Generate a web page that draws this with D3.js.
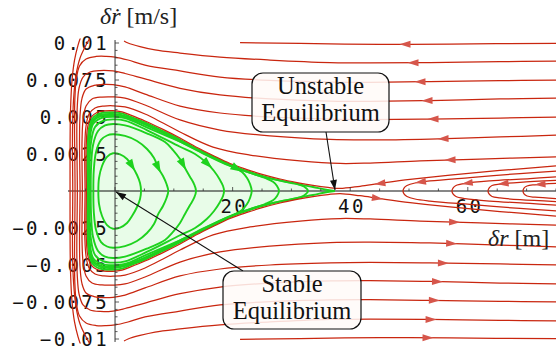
<!DOCTYPE html>
<html><head><meta charset="utf-8">
<script src="https://cdn.jsdelivr.net/npm/d3@7"></script>
<style>
body{margin:0;background:#fff}
svg{display:block}
</style>
</head><body>
<svg id="chart" width="556" height="360"></svg>
<script>
// Phase portrait of the radial relative motion: δr [m] vs δṙ [m/s].
// Every trajectory is stored as its upper half (δṙ >= 0); the portrait is
// symmetric about δṙ = 0, so the lower half is the mirror image.

// separatrix (homoclinic orbit of the saddle), from the left wall to the saddle
const separatrix = [[-4.68,0],[-4.71,0.00176],[-4.66,0.00311],[-4.42,0.00426],[-3.91,0.00486],[-3.06,0.00517],[-1.87,0.00530],[-0.34,0.00532],[1.19,0.00524],[2.55,0.00503],[5.10,0.00463],[8.16,0.00405],[11.05,0.00348],[13.95,0.00284],[16.67,0.00230],[19.56,0.00176],[22.45,0.00135],[25.17,0.00101],[28.06,0.00071],[30.95,0.00047],[33.67,0.00027],[35.71,0.00010],[37.41,0]];

// closed orbits around the stable equilibrium
const loop1 = [[-2.84,0],[-2.72,0.00088],[-2.21,0.00169],[-1.36,0.00230],[-0.34,0.00255],[0.85,0.00247],[2.04,0.00216],[2.89,0.00169],[3.74,0.00108],[4.25,0.00054],[4.42,0]];
const loop2 = [[-3.69,0],[-3.61,0.00142],[-3.23,0.00264],[-2.38,0.00345],[-1.36,0.00375],[-0.34,0.00383],[1.70,0.00372],[3.74,0.00338],[5.44,0.00284],[6.63,0.00223],[7.36,0.00155],[8.16,0.00101],[8.76,0.00047],[9.06,0]];
const loop3 = [[-4.13,0],[-4.08,0.00155],[-3.74,0.00311],[-2.89,0.00405],[-1.70,0.00443],[-0.34,0.00453],[1.70,0.00443],[5.39,0.00390],[8.50,0.00331],[9.86,0.00277],[11.05,0.00216],[11.90,0.00155],[12.76,0.00095],[13.44,0.00047],[13.78,0]];
const loop4 = [[-4.37,0],[-4.34,0.00176],[-4.08,0.00331],[-3.40,0.00432],[-2.04,0.00473],[-0.34,0.00484],[1.70,0.00476],[5.39,0.00412],[11.05,0.00299],[13.61,0.00250],[15.6,0.00189],[16.84,0.00135],[17.86,0.00074],[18.37,0.00034],[18.54,0]];
const loop5 = [[-4.51,0],[-4.51,0.00176],[-4.29,0.00345],[-3.74,0.00453],[-2.38,0.00493],[-0.34,0.00502],[1.70,0.00493],[5.39,0.00430],[11.05,0.00333],[16.72,0.00232],[20.12,0.00164],[21.6,0.00128],[22.45,0.00088],[22.96,0.00047],[23.25,0]];
const loop6 = [[-4.59,0],[-4.59,0.00209],[-4.37,0.00378],[-3.66,0.00473],[-2.21,0.00507],[-0.34,0.00511],[2.55,0.00490],[8.16,0.00392],[13.95,0.00274],[19.56,0.00169],[23.81,0.00111],[25.51,0.00088],[26.87,0.00063],[27.55,0.00034],[27.89,0]];
const loop7 = [[-4.63,0],[-4.63,0.00209],[-4.39,0.00405],[-3.78,0.00480],[-2.55,0.00512],[-0.34,0.00520],[2.55,0.00497],[8.16,0.00399],[13.95,0.00277],[19.56,0.00171],[25.17,0.00096],[28.91,0.00064],[30.95,0.00049],[32.14,0.00030],[32.82,0]];
const loops = [loop1, loop2, loop3, loop4, loop5, loop6, loop7];
// δr where the arrow sits on the upper branch of each closed orbit (none on the outer two)
const loopArrowAt = [2.84, 7.36, 11.6, 15.8, 20.7, null, null];

// open trajectories that run round the left wall (upper half, wall -> right edge)
const outer0 = [[-4.88,0],[-4.93,0.00176],[-4.90,0.00311],[-4.66,0.00432],[-4.11,0.00497],[-3.15,0.00529],[-1.87,0.00541],[-0.34,0.00543],[1.19,0.00534],[2.55,0.00514],[5.10,0.00473],[8.16,0.00416],[11.05,0.00358],[13.95,0.00294],[16.67,0.00240],[19.56,0.00186],[22.45,0.00145],[25.17,0.00111],[28.06,0.00081],[30.95,0.00057],[33.67,0.00038],[36.22,0.00024],[38.27,0.00017],[41.67,0.00032],[45.07,0.00051],[50.17,0.00078],[56.97,0.00108],[65.48,0.00139],[75,0.00169]];
const outer1 = [[-5.10,0],[-5.15,0.00176],[-5.14,0.00311],[-4.93,0.00439],[-4.42,0.00520],[-3.40,0.00561],[-1.87,0.00574],[-0.34,0.00576],[1.70,0.00568],[5.10,0.00520],[8.16,0.00459],[11.05,0.00399],[16.67,0.00297],[22.96,0.00243],[31.46,0.00203],[38.27,0.00186],[43.37,0.00189],[51.87,0.00203],[62.07,0.00216],[75,0.00230]];
const outer2 = [[-5.56,0],[-5.61,0.00176],[-5.61,0.00345],[-5.44,0.00480],[-4.93,0.00574],[-3.91,0.00622],[-2.21,0.00635],[-0.34,0.00636],[1.70,0.00628],[5.10,0.00581],[11.05,0.00480],[17.86,0.00412],[26.36,0.00372],[36.56,0.00348],[43.37,0.00345],[53.57,0.00351],[65.48,0.00365],[75,0.00378]];
const outer3 = [[-5.95,0],[-6.00,0.00176],[-6.04,0.00345],[-5.95,0.00514],[-5.61,0.00628],[-4.93,0.00689],[-3.57,0.00713],[-2.04,0.00720],[-0.34,0.00718],[1.70,0.00703],[5.10,0.00655],[11.05,0.00574],[17.86,0.00527],[26.36,0.00500],[36.56,0.00486],[43.37,0.00483],[53.57,0.00486],[65.48,0.00493],[75,0.00500]];
const outer4 = [[-6.41,0],[-6.46,0.00209],[-6.50,0.00412],[-6.41,0.00581],[-6.12,0.00696],[-5.44,0.00770],[-4.25,0.00804],[-2.55,0.00814],[-0.34,0.00811],[1.70,0.00794],[5.10,0.00757],[11.05,0.00694],[17.86,0.00649],[26.36,0.00622],[36.56,0.00608],[43.37,0.00606],[53.57,0.00611],[65.48,0.00622],[75,0.00628]];
const outer5 = [[-6.80,0],[-6.84,0.00209],[-6.89,0.00412],[-6.84,0.00615],[-6.60,0.00750],[-6.04,0.00845],[-4.93,0.00892],[-3.23,0.00909],[-1.53,0.00910],[0,0.00905],[2.21,0.00885],[5.10,0.00851],[11.05,0.00811],[17.86,0.00770],[26.36,0.00747],[36.56,0.00736],[43.37,0.00734],[53.57,0.00739],[65.48,0.00745],[75,0.00750]];
// trajectories that enter through the top edge and run down the wall
const wall1 = [[-7.19,0],[-7.23,0.00209],[-7.23,0.00412],[-7.06,0.00615],[-6.63,0.00784],[-5.95,0.00899],[-4.93,0.00986],[-4.25,0.01034]];
const wall2 = [[-7.65,0],[-7.65,0.00277],[-7.57,0.00547],[-7.31,0.00750],[-6.89,0.00885],[-6.29,0.00986],[-5.78,0.01047]];
// trajectories that leave through the top edge (upper) / come in through the bottom edge (lower)
const top1 = [[1.53,0.01014],[2.21,0.01000],[4.25,0.00976],[6.80,0.00953],[11.05,0.00932],[17.86,0.00905],[26.36,0.00885],[36.56,0.00868],[43.37,0.00865],[53.57,0.00868],[65.48,0.00874],[75,0.00878]];
const top0 = [[21.26,0.01002],[31.46,0.00997],[45.07,0.00991],[56.97,0.00993],[75,0.00998]];
// turning trajectories to the right of the saddle (vertex -> right edge)
const right1 = [[48.98,0],[49.15,0.00020],[49.66,0.00037],[51.02,0.00054],[53.57,0.00068],[60.37,0.00091],[68.88,0.00118],[75,0.00135]];
const right2 = [[57.31,0],[57.48,0.00020],[57.99,0.00037],[59.52,0.00051],[63.78,0.00068],[70.58,0.00084],[75,0.00095]];
const right3 = [[63.44,0],[63.61,0.00020],[64.12,0.00037],[65.48,0.00047],[68.88,0.00059],[75,0.00071]];
const right4 = [[69.39,0],[69.56,0.00020],[70.07,0.00034],[71.43,0.00042],[75,0.00051]];

// arrow positions (δr) on the upper and lower halves of the open trajectories
const openCurves = [
  {pts: outer0, kind: "wall", up: 45.1, down: 44.6},
  {pts: outer1, kind: "wall", up: 57.0, down: 57.8},
  {pts: outer2, kind: "wall", up: 55.8, down: 57.3},
  {pts: outer3, kind: "wall", up: 54.1, down: 55.8},
  {pts: outer4, kind: "wall", up: 53.1, down: 54.8},
  {pts: outer5, kind: "wall", up: 51.9, down: 54.3},
  {pts: wall1, kind: "wall", up: null, down: null},
  {pts: wall2, kind: "wall", up: null, down: null},
  {pts: top1, kind: "edge", up: 50.7, down: 53.7},
  {pts: top0, kind: "edge", up: 49.3, down: 53.2},
  {pts: right1, kind: "wall", up: 51.9, down: null},
  {pts: right2, kind: "wall", up: 59.9, down: null},
  {pts: right3, kind: "wall", up: 66.0, down: null},
  {pts: right4, kind: "wall", up: 72.3, down: null}
];

const yTicks = [0.01, 0.0075, 0.005, 0.0025, -0.0025, -0.005, -0.0075, -0.01];
const yTickLabels = ["0.01", "0.0075", "0.005", "0.0025", "\u22120.0025", "\u22120.005", "\u22120.0075", "\u22120.01"];
const xTicks = [20, 40, 60];
const xTickLabels = ["20", "40", "60"];

const stableAt = [0, 0];
const unstableAt = [37.41, 0];

const x = d3.scaleLinear().domain([-8, 75]).range([68, 556]);
const y = d3.scaleLinear().domain([-0.01, 0.01]).range([339, 43]);

const RED = "#c9260f", RED_HEAD = "#d6564b", GREEN = "#1ed21e", FILL = "#e8fce8";

const svg = d3.select("#chart");
const defs = svg.append("defs");
defs.append("clipPath").attr("id", "plot").append("rect")
  .attr("x", x(-8)).attr("y", y(0.0103)).attr("width", x(75) - x(-8)).attr("height", y(-0.0103) - y(0.0103));

const mono = "'DejaVu Sans Mono', monospace";
const serif = "'Liberation Serif', 'Times New Roman', serif";

const plot = svg.append("g").attr("clip-path", "url(#plot)");
const line = d3.line().x(d => x(d[0])).y(d => y(d[1])).curve(d3.curveCatmullRom.alpha(0.5));
const closed = d3.line().x(d => x(d[0])).y(d => y(d[1])).curve(d3.curveCatmullRomClosed.alpha(0.5));
const mirror = pts => pts.map(([r, v]) => [r, -v]);

// light fill of the region bounded by the separatrix
const sepUpper = line(separatrix);
const sepLower = line(mirror(separatrix).slice().reverse());
plot.append("path").attr("d", sepUpper + sepLower.replace(/^M/, "L") + "Z").attr("fill", FILL);

// tick labels: above the fill, beneath the trajectories
const yAxis = d3.axisLeft(y).tickValues(yTicks).tickFormat((d, i) => yTickLabels[i]).tickSize(0).tickPadding(6);
const gyl = svg.append("g").attr("transform", `translate(${x(0)},0)`).call(yAxis);
gyl.select(".domain").remove();
gyl.selectAll("text").attr("font-family", mono).attr("font-size", 19).attr("letter-spacing", 2.4).attr("fill", "#111");

const xAxis = d3.axisBottom(x).tickValues(xTicks).tickFormat((d, i) => xTickLabels[i]).tickSize(0).tickPadding(9);
const gxl = svg.append("g").attr("transform", `translate(0,${y(0)})`).call(xAxis);
gxl.select(".domain").remove();
gxl.selectAll("text").attr("font-family", mono).attr("font-size", 19).attr("letter-spacing", 2.4).attr("fill", "#111").attr("dx", 1.2);

// axes
const axisCol = "#333";
const curves = svg.append("g").attr("clip-path", "url(#plot)");
curves.append("line").attr("x1", x(-8)).attr("x2", x(75)).attr("y1", y(0)).attr("y2", y(0)).attr("stroke", "#111").attr("stroke-width", 1.1);
svg.append("line").attr("x1", x(0)).attr("x2", x(0)).attr("y1", y(0.0102)).attr("y2", y(-0.0102)).attr("stroke", axisCol).attr("stroke-width", 1);
const yMinor = d3.range(-0.01, 0.01001, 0.0005);
svg.append("g").selectAll("line").data(yMinor).join("line")
  .attr("x1", x(0)).attr("x2", d => x(0) + (Math.abs(d / 0.0025 - Math.round(d / 0.0025)) < 1e-6 ? 4 : 2.5))
  .attr("y1", d => y(d)).attr("y2", d => y(d)).attr("stroke", axisCol).attr("stroke-width", 0.8);
const xMinor = d3.range(-5, 76, 5);
svg.append("g").selectAll("line").data(xMinor).join("line")
  .attr("x1", d => x(d)).attr("x2", d => x(d)).attr("y1", y(0))
  .attr("y2", d => y(0) - (d % 20 === 0 ? 4 : 2.5)).attr("stroke", axisCol).attr("stroke-width", 0.8);

// closed orbits
const loopPaths = loops.map(up => {
  const pts = up.concat(mirror(up.slice(1, -1)).reverse());
  return curves.append("path").attr("d", closed(pts)).attr("fill", "none")
    .attr("stroke", GREEN).attr("stroke-width", 1.9).node();
});
curves.append("path").attr("d", sepUpper).attr("fill", "none").attr("stroke", GREEN).attr("stroke-width", 1.9);
curves.append("path").attr("d", sepLower).attr("fill", "none").attr("stroke", GREEN).attr("stroke-width", 1.9);

// open trajectories
const openPaths = [];
openCurves.forEach(c => {
  if (c.kind === "wall") {
    const pts = c.pts.slice().reverse().concat(mirror(c.pts.slice(1)));
    const p = curves.append("path").attr("d", line(pts)).attr("fill", "none").attr("stroke", RED).attr("stroke-width", 1.25).node();
    openPaths.push({node: p, up: c.up, down: c.down, nodeDown: p});
  } else {
    const pu = curves.append("path").attr("d", line(c.pts.slice().reverse())).attr("fill", "none").attr("stroke", RED).attr("stroke-width", 1.25).node();
    const pd = curves.append("path").attr("d", line(mirror(c.pts))).attr("fill", "none").attr("stroke", RED).attr("stroke-width", 1.25).node();
    openPaths.push({node: pu, up: c.up, down: c.down, nodeDown: pd});
  }
});

// arrowheads along a path: centred at the point whose δr is given, in the chosen half-plane
const y0 = y(0);
function arrowOn(node, r, upper, len, wid, color, layer) {
  if (r == null) return;
  const tx = x(r), L = node.getTotalLength();
  let best = -1, bd = Infinity;
  for (let s = 0; s <= L; s += 1) {
    const p = node.getPointAtLength(s);
    if (upper ? p.y < y0 - 0.5 : p.y > y0 + 0.5) {
      const d = Math.abs(p.x - tx);
      if (d < bd) { bd = d; best = s; }
    }
  }
  if (best < 0) return;
  const a = node.getPointAtLength(Math.max(0, best - 3)), b = node.getPointAtLength(Math.min(L, best + 3));
  const ang = Math.atan2(b.y - a.y, b.x - a.x) * 180 / Math.PI;
  const c = node.getPointAtLength(best);
  layer.append("path").attr("d", `M${len / 2},0L${-len / 2},${-wid / 2}L${-len / 2},${wid / 2}Z`)
    .attr("transform", `translate(${c.x},${c.y}) rotate(${ang})`).attr("fill", color);
}
const heads = svg.append("g");
openPaths.forEach(o => {
  arrowOn(o.node, o.up, true, 11, 7, RED_HEAD, heads);
  arrowOn(o.nodeDown, o.down, false, 11, 7, RED_HEAD, heads);
});
loopPaths.forEach((n, i) => arrowOn(n, loopArrowAt[i], true, 12, 8, GREEN, heads));

// call-outs
function callout(cx, top, w, h, lines, base, from, to) {
  const g = svg.append("g");
  g.append("line").attr("x1", from[0]).attr("y1", from[1]).attr("x2", to[0]).attr("y2", to[1]).attr("stroke", "#111").attr("stroke-width", 1.1);
  const ang = Math.atan2(to[1] - from[1], to[0] - from[0]) * 180 / Math.PI;
  g.append("path").attr("d", "M0,0L-10,-3.5L-10,3.5Z").attr("transform", `translate(${to[0]},${to[1]}) rotate(${ang})`).attr("fill", "#111");
  g.append("rect").attr("x", cx - w / 2).attr("y", top).attr("width", w).attr("height", h).attr("rx", 11)
    .attr("fill", "#fffaf8").attr("fill-opacity", 0.86).attr("stroke", "#111").attr("stroke-width", 1.2);
  lines.forEach((t, i) => g.append("text").attr("x", cx).attr("y", base[i]).attr("text-anchor", "middle")
    .attr("font-family", serif).attr("font-size", 24.5).attr("fill", "#111").text(t));
}
callout(320.5, 73, 137, 59, ["Unstable", "Equilibrium"], [94, 121], [326, 132], [x(unstableAt[0]), y(unstableAt[1]) - 1]);
callout(292, 271, 138, 58, ["Stable", "Equilibrium"], [292, 319], [243, 271], [x(stableAt[0]) + 1, y(stableAt[1]) + 1]);

// axis titles
const ty = svg.append("text").attr("x", 100).attr("y", 24).attr("font-family", serif).attr("font-size", 24).attr("fill", "#222");
ty.append("tspan").attr("font-style", "italic").text("\u03b4r\u0307");
ty.append("tspan").text(" [m/s]");
const tx = svg.append("text").attr("x", 488).attr("y", 246).attr("font-family", serif).attr("font-size", 24).attr("fill", "#222");
tx.append("tspan").attr("font-style", "italic").text("\u03b4r");
tx.append("tspan").text(" [m]");
</script>
</body></html>
